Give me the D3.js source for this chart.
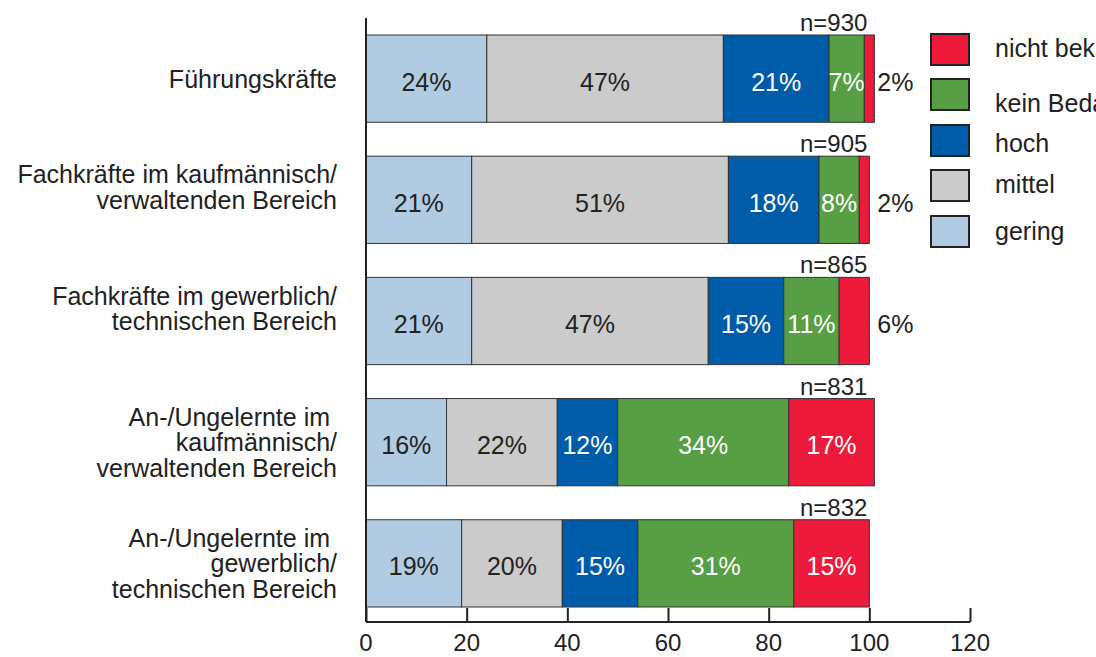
<!DOCTYPE html>
<html>
<head>
<meta charset="utf-8">
<script src="https://cdn.jsdelivr.net/npm/d3@7"></script>
<style>
  body { margin: 0; background: #fff; }
  svg { display: block; font-family: "Liberation Sans", Arial, sans-serif; }
</style>
</head>
<body>
<svg id="chart" width="1096" height="657"></svg>
<script>
// === Daten ===
const categories = [
    ["Führungskräfte"],
    ["Fachkräfte im kaufmännisch/", "verwaltenden Bereich"],
    ["Fachkräfte im gewerblich/", "technischen Bereich"],
    ["An-/Ungelernte im\u00a0", "kaufmännisch/", "verwaltenden Bereich"],
    ["An-/Ungelernte im\u00a0", "gewerblich/", "technischen Bereich"]
];
const sampleSizes = [930, 905, 865, 831, 832];
const seriesNames = ["gering", "mittel", "hoch", "kein Bedarf", "nicht bekannt"];
const gering = [24, 21, 21, 16, 19];
const mittel = [47, 51, 47, 22, 20];
const hoch = [21, 18, 15, 12, 15];
const keinBedarf = [7, 8, 11, 34, 31];
const nichtBekannt = [2, 2, 6, 17, 15];
const xTicks = [0, 20, 40, 60, 80, 100, 120];

const colors = ["#b1cce2", "#cbcbcb", "#005ba9", "#579e44", "#ee1a3b"];
const textColors = ["#222", "#222", "#fff", "#fff", "#fff"];

const series = [gering, mittel, hoch, keinBedarf, nichtBekannt];
const rows = categories.map((c, i) => {
    const r = { key: i };
    seriesNames.forEach((s, j) => r[s] = series[j][i]);
    return r;
});
const stacked = d3.stack().keys(seriesNames)(rows);

const svg = d3.select("#chart");
const x = d3.scaleLinear().domain([0, 120]).range([366, 970]);
const y = d3.scaleBand().domain(d3.range(categories.length)).range([35, 607]).paddingInner(0.28);

const FS = 25;

// Balken
const layer = svg.selectAll("g.layer")
    .data(stacked)
    .enter().append("g")
    .attr("class", "layer");

layer.selectAll("rect")
    .data((d, j) => d.map(p => ({ p, j })))
    .enter().append("rect")
    .attr("x", d => x(d.p[0]))
    .attr("y", d => y(d.p.data.key))
    .attr("width", d => x(d.p[1]) - x(d.p[0]))
    .attr("height", y.bandwidth())
    .attr("fill", d => colors[d.j])
    .attr("stroke", "#333")
    .attr("stroke-width", 1);

// Prozent-Beschriftungen
layer.selectAll("text")
    .data((d, j) => d.map(p => ({ p, j })))
    .enter().append("text")
    .each(function (d) {
        const v = d.p[1] - d.p[0];
        const outside = d.j === 4 && v < 10;
        d3.select(this)
            .attr("x", outside ? x(101) + 3 : (x(d.p[0]) + x(d.p[1])) / 2)
            .attr("text-anchor", outside ? "start" : "middle")
            .attr("fill", outside ? "#222" : textColors[d.j]);
    })
    .attr("y", d => y(d.p.data.key) + y.bandwidth() / 2 + 3)
    .attr("dy", "0.36em")
    .attr("font-size", FS)
    .text(d => (d.p[1] - d.p[0]) + "%");

// n= Beschriftungen
svg.selectAll("text.n")
    .data(sampleSizes)
    .enter().append("text")
    .attr("class", "n")
    .attr("x", x(100) - 2)
    .attr("y", (d, i) => y(i) - 4)
    .attr("text-anchor", "end")
    .attr("font-size", 24)
    .attr("fill", "#222")
    .text(d => "n=" + d);

// Kategorien
const lh = 25.5;
svg.selectAll("text.cat")
    .data(categories)
    .enter().append("text")
    .attr("class", "cat")
    .attr("text-anchor", "end")
    .attr("font-size", FS)
    .attr("fill", "#222")
    .each(function (lines, i) {
        const cy = y(i) + y.bandwidth() / 2;
        const top = lines.length === 1 ? cy : cy - lh;
        d3.select(this).selectAll("tspan")
            .data(lines)
            .enter().append("tspan")
            .attr("x", 337)
            .attr("y", (l, k) => top + k * lh)
            .attr("dy", "0.36em")
            .text(l => l);
    });

// x-Achse
const xAxis = svg.append("g")
    .attr("transform", "translate(0,622)")
    .call(d3.axisTop(x).tickValues(xTicks).tickSize(14).tickFormat(""));
xAxis.select(".domain").attr("d", `M${x(0)},0H${x(120)}`);
xAxis.selectAll("line, path").attr("stroke", "#222").attr("stroke-width", 2);

svg.selectAll("text.tick")
    .data(xTicks)
    .enter().append("text")
    .attr("class", "tick")
    .attr("x", d => x(d))
    .attr("y", 642)
    .attr("dy", "0.36em")
    .attr("text-anchor", "middle")
    .attr("font-size", 24)
    .attr("fill", "#222")
    .text(d => d);

// y-Achse
svg.append("line")
    .attr("x1", x(0)).attr("x2", x(0))
    .attr("y1", 18).attr("y2", 622)
    .attr("stroke", "#222").attr("stroke-width", 2);

// Legende
const legendOrder = [4, 3, 2, 1, 0];
const legendY = [34, 79, 125, 170, 216];
const legendDy = [-2, 8, 2, -2, -1];
const legend = svg.selectAll("g.legend")
    .data(legendOrder)
    .enter().append("g")
    .attr("class", "legend")
    .attr("transform", (d, i) => `translate(931,${legendY[i]})`);
legend.append("rect")
    .attr("width", 38).attr("height", 31)
    .attr("fill", d => colors[d])
    .attr("stroke", "#222").attr("stroke-width", 2);
legend.append("text")
    .attr("x", 64)
    .attr("y", (d, i) => 15.5 + legendDy[i])
    .attr("dy", "0.36em")
    .attr("font-size", FS)
    .attr("fill", "#222")
    .text(d => seriesNames[d]);
</script>
</body>
</html>
